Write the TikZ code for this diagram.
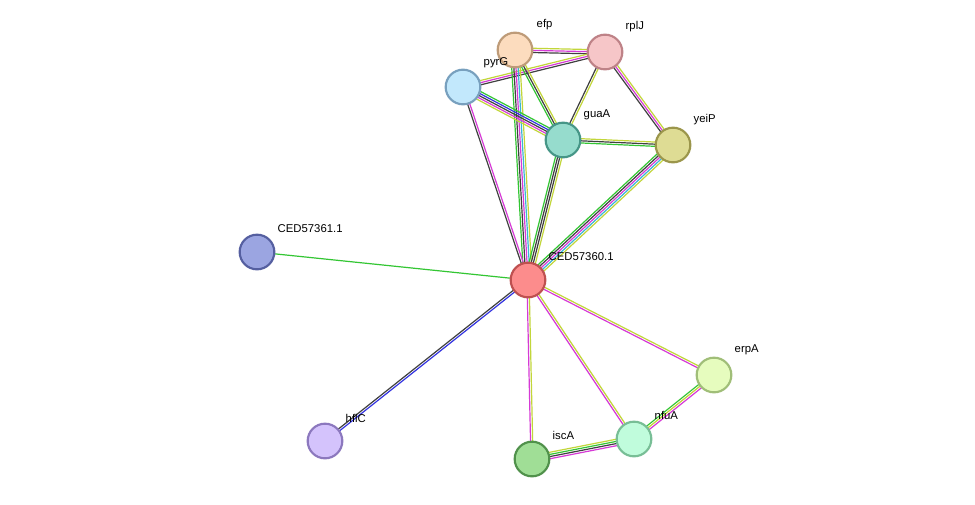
\documentclass[tikz,border=0pt]{standalone}
\usepackage{fontspec}
\setmainfont{Liberation Sans}
\usetikzlibrary{calc}
\definecolor{eg}{HTML}{33C633}\definecolor{ek}{HTML}{404040}\definecolor{em}{HTML}{D63AD6}
\definecolor{ey}{HTML}{C2D63A}\definecolor{ec}{HTML}{3AB4D6}\definecolor{eb}{HTML}{3333E0}
\tikzset{prot/.style={circle,draw,line width=1.6pt,minimum size=26pt,inner sep=0pt},
lab/.style={font=\fontsize{8.5}{10}\selectfont,anchor=south west}}
\newcommand\edg[3]{%
 \foreach \c [count=\i] in {#3}{\xdef\nn{\i}}%
 \foreach \c [count=\i] in {#3}{%
  \pgfmathsetmacro\off{(\i-(\nn+1)/2)*1.6}%
  \draw[\c,line width=0.9pt] ($(#1)!\off pt!90:(#2)$) -- ($(#2)!\off pt!-90:(#1)$);}}
\begin{document}
\begin{tikzpicture}[x=0.75pt,y=-0.75pt]
\fill[white] (0,0) rectangle (975,504);
\coordinate (efp) at (515,50);\coordinate (rplJ) at (605,52);\coordinate (pyrG) at (463,87);
\coordinate (guaA) at (563,140);\coordinate (yeiP) at (673,145);\coordinate (C0) at (528,280);
\coordinate (C1) at (257,252);\coordinate (erpA) at (714,375);\coordinate (hflC) at (325,441);
\coordinate (iscA) at (532,459);\coordinate (nfuA) at (634,439);
\edg{efp}{rplJ}{ek,em,ey}
\edg{pyrG}{rplJ}{ek,em,ey}
\edg{efp}{guaA}{eg,ek,ey}
\edg{efp}{C0}{eg,ek,em,ec,ey}
\edg{pyrG}{guaA}{ey,em,ek,eb,eg}
\edg{pyrG}{C0}{ek,em}
\edg{rplJ}{guaA}{ek,ey}
\edg{rplJ}{yeiP}{ek,em,ey}
\edg{guaA}{yeiP}{eg,ek,ey}
\edg{guaA}{C0}{eg,ek,ek,ey}
\edg{yeiP}{C0}{eg,ek,em,ec,ey}
\edg{C0}{C1}{eg}
\edg{C0}{hflC}{ek,eb}
\edg{C0}{erpA}{em,ey}
\edg{C0}{nfuA}{em,ey}
\edg{C0}{iscA}{em,ey}
\edg{iscA}{nfuA}{em,ek,eg,ey}
\edg{nfuA}{erpA}{em,ey,eg}
\node[prot,fill={rgb,255:red,252;green,220;blue,190},draw={rgb,255:red,190;green,155;blue,120}] (nefp) at (efp) {};
\node[prot,fill={rgb,255:red,246;green,198;blue,200},draw={rgb,255:red,190;green,130;blue,135}] (nrplJ) at (rplJ) {};
\node[prot,fill={rgb,255:red,194;green,232;blue,252},draw={rgb,255:red,120;green,160;blue,190}] (npyrG) at (pyrG) {};
\node[prot,fill={rgb,255:red,150;green,220;blue,205},draw={rgb,255:red,70;green,150;blue,135}] (nguaA) at (guaA) {};
\node[prot,fill={rgb,255:red,222;green,220;blue,148},draw={rgb,255:red,155;green,150;blue,75}] (nyeiP) at (yeiP) {};
\node[prot,fill={rgb,255:red,252;green,140;blue,140},draw={rgb,255:red,190;green,80;blue,80}] (nC0) at (C0) {};
\node[prot,fill={rgb,255:red,155;green,165;blue,225},draw={rgb,255:red,85;green,95;blue,160}] (nC1) at (C1) {};
\node[prot,fill={rgb,255:red,230;green,252;blue,190},draw={rgb,255:red,160;green,190;blue,120}] (nerpA) at (erpA) {};
\node[prot,fill={rgb,255:red,212;green,195;blue,252},draw={rgb,255:red,140;green,120;blue,190}] (nhflC) at (hflC) {};
\node[prot,fill={rgb,255:red,160;green,222;blue,150},draw={rgb,255:red,80;green,145;blue,75}] (niscA) at (iscA) {};
\node[prot,fill={rgb,255:red,192;green,252;blue,220},draw={rgb,255:red,120;green,190;blue,150}] (nnfuA) at (nfuA) {};
\node[lab] at (532,35) {efp};
\node[lab] at (621,37) {rplJ};
\node[lab] at (479,73) {pyrG};
\node[lab] at (579,125) {guaA};
\node[lab] at (689,130) {yeiP};
\node[lab] at (544,265) {CED57360.1};
\node[lab] at (273,237) {CED57361.1};
\node[lab] at (730,360) {erpA};
\node[lab] at (341,427) {hflC};
\node[lab] at (548,444) {iscA};
\node[lab] at (650,424) {nfuA};
\end{tikzpicture}
\end{document}
